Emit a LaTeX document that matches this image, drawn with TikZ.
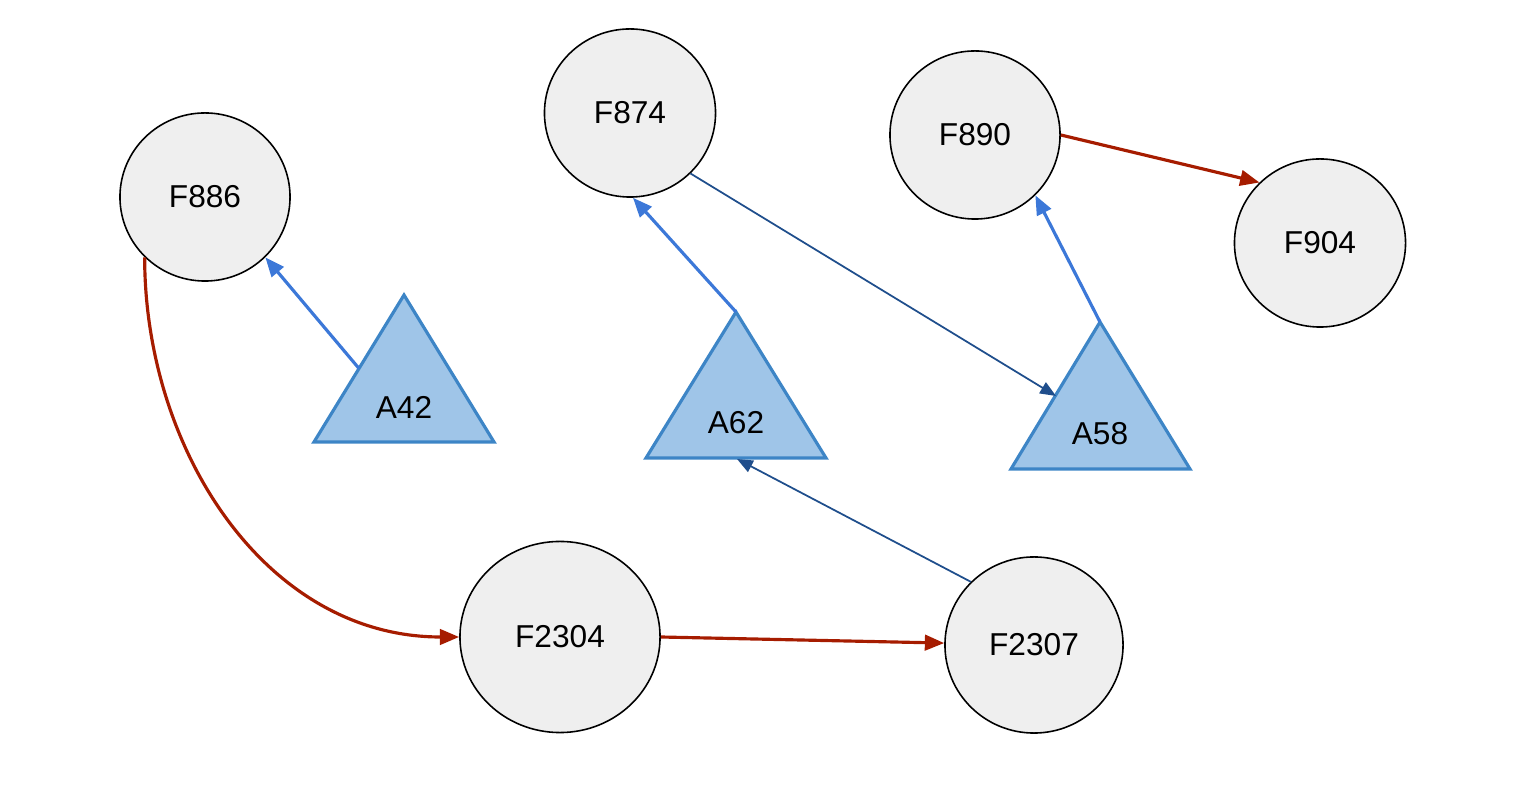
\documentclass[tikz,border=0pt]{standalone}
\usepackage{fontspec}
\setmainfont{Liberation Sans}
\usetikzlibrary{shapes.geometric,arrows.meta}
\definecolor{nodegray}{HTML}{EFEFEF}
\definecolor{trifill}{HTML}{9FC5E8}
\definecolor{triline}{HTML}{3D85C6}
\definecolor{linkblue}{HTML}{3C78D8}
\definecolor{darkblue}{HTML}{1F4E8C}
\definecolor{linkred}{HTML}{A61C00}
\begin{document}
\begin{tikzpicture}[x=0.01cm,y=-0.01cm,
    fnode/.style={ellipse,draw,line width=0.45pt,fill=nodegray,inner sep=0pt,
      minimum width=1.7cm,minimum height=1.68cm,font=\fontsize{9}{10}\selectfont},
    alabel/.style={inner sep=0pt,font=\fontsize{9}{10}\selectfont},
    tri/.style={draw=triline,fill=trifill,line width=0.9pt,line join=miter},
    blue link/.style={draw=linkblue,line width=0.9pt,-{Triangle[length=5.5pt,width=4.4pt]}},
    dark link/.style={draw=darkblue,line width=0.5pt,-{Triangle[length=4.5pt,width=3.6pt]}},
    red link/.style={draw=linkred,line width=0.9pt,-{Triangle[length=5.5pt,width=4.4pt]}}]
    \path[use as bounding box] (0,0) rectangle (1518,810);
    \node[fnode] (F886) at (205,197) {F886};
    \node[fnode,minimum width=1.71cm] (F874) at (630,113) {F874};
    \node[fnode] (F890) at (975,135) {F890};
    \node[fnode,minimum width=1.71cm] (F904) at (1320,243) {F904};
    \node[fnode,minimum width=2cm,minimum height=1.91cm] (F2304) at (560,637) {F2304};
    \node[fnode,minimum width=1.78cm,minimum height=1.76cm] (F2307) at (1034,645) {F2307};
    \draw[tri] (404,295) coordinate (A42 top) -- (494,442) -- (314,442) -- cycle;
    \draw[tri] (736,312) coordinate (A62 top) -- (826,458) -- (646,458) -- cycle;
    \draw[tri] (1100,322) coordinate (A58 top) -- (1190,469) -- (1011,469) -- cycle;
    \coordinate (A42 side) at (359,368.5);
    \coordinate (A62 base) at (737,459);
    \coordinate (A58 side) at (1056,396);
    \node[alabel] (A42) at (404,407) {A42};
    \node[alabel] (A62) at (736,423) {A62};
    \node[alabel] (A58) at (1100,434) {A58};
    \draw[blue link] (A42 side) -- (F886.-45);
    \draw[blue link] (A62 top) -- (F874.-88);
    \draw[blue link] (A58 top) -- (F890.-45);
    \draw[dark link] (F874.-45) -- (A58 side);
    \draw[dark link] (F2307.135) -- (A62 base);
    \draw[red link] (F886.225) .. controls +(0,193) and +(-193,0) .. (F2304.west);
    \draw[red link] (F2304.east) -- (F2307);
    \draw[red link] (F890.east) -- (F904.135);
\end{tikzpicture}
\end{document}
